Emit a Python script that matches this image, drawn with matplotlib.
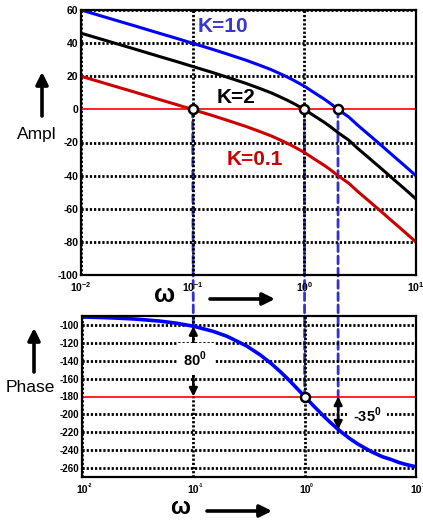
import matplotlib
matplotlib.use('Agg')
import matplotlib.pyplot as plt
from matplotlib.patches import ConnectionPatch

plt.rcParams['font.family'] = ['Liberation Sans', 'DejaVu Sans']
plt.rcParams['mathtext.fontset'] = 'custom'
plt.rcParams['mathtext.rm'] = 'Liberation Sans'
plt.rcParams['mathtext.bf'] = 'Liberation Sans:bold'

# values
omega = [0.01, 0.015, 0.02, 0.03, 0.05, 0.07, 0.1, 0.15, 0.2, 0.3, 0.4, 0.5, 0.6, 0.7, 0.8,
         1, 1.2, 1.5, 1.7, 2, 2.5, 3, 4, 5, 6, 7, 8, 10]
ampl_k10 = [60, 56.5, 54, 50.5, 46, 43.1, 39.9, 36.3, 33.6, 29.7, 26.6, 24.1, 21.7, 19.6, 17.6,
            14, 10.5, 6.3, 3.7, 0, -4.6, -9.5, -16.7, -22.3, -27.0, -30.9, -34.3, -40.1]
ampl_k2 = [46, 42.5, 40, 36.5, 32, 29.1, 25.9, 22.3, 19.6, 15.7, 12.6, 10.1, 7.7, 5.6, 3.6,
           0, -3.5, -7.7, -10.3, -14, -18.6, -23.5, -30.7, -36.3, -41.0, -44.9, -48.3, -54.1]
ampl_k01 = [20, 16.5, 14, 10.5, 6, 3.1, -0.1, -3.7, -6.4, -10.3, -13.4, -15.9, -18.3, -20.4,
            -22.4, -26, -29.5, -33.7, -36.3, -40, -44.6, -49.5, -56.7, -62.3, -67.0, -70.9,
            -74.3, -80.1]
phase = [-91.1, -91.7, -92.3, -93.4, -95.7, -98.0, -101.4, -107.1, -112.6, -123.4, -133.6,
         -143.1, -151.9, -159.9, -167.3, -180, -190.4, -202.6, -209.0, -216.9, -226.4,
         -233.1, -241.9, -247.4, -250.5, -253.7, -255.8, -258.6]
crossover = [0.1, 1, 2]
x_ticks = [0.01, 0.1, 1, 10]
x_exps = ['-2', '-1', '0', '1']
ampl_ticks = list(range(-100, 61, 20))
phase_ticks = list(range(-260, -99, 20))

W, H = 423, 520
fig = plt.figure(figsize=(W / 100, H / 100), dpi=100)
ax1 = fig.add_axes([81 / W, 1 - 275 / H, 335 / W, 265 / H])
ax2 = fig.add_axes([82 / W, 1 - 477 / H, 334 / W, 161 / H])

dotted = (0, (0.8, 0.7))
for ax in (ax1, ax2):
    ax.set_xscale('log')
    ax.set_xlim(0.01, 10)
    ax.set_facecolor('none')
    ax.set_zorder(3)
    ax.set_xticks(x_ticks)
    ax.minorticks_off()
    ax.grid(True, color='k', linestyle=dotted, linewidth=2)
    ax.tick_params(which='both', length=0)
    for s in ax.spines.values():
        s.set_linewidth(1.6)

# amplitude
ax1.set_ylim(-100, 60)
ax1.set_yticks(ampl_ticks)
ax1.set_yticklabels([str(t) for t in ampl_ticks], fontsize=7.5, fontweight='bold')
ax1.tick_params(axis='y', pad=2)
ax1.set_xticklabels([r'$\mathbf{10^{%s}}$' % e for e in x_exps], fontsize=7.5)
ax1.tick_params(axis='x', pad=4)
ax1.get_ygridlines()[ampl_ticks.index(0)].set_visible(False)
ax1.axhline(0, color='#ff0000', lw=1.2, zorder=2.5)
ax1.plot(omega, ampl_k10, color='#0000ff', lw=2.2)
ax1.plot(omega, ampl_k2, color='black', lw=2.2)
ax1.plot(omega, ampl_k01, color='#cc0000', lw=2.2)
ax1.plot(crossover, [0] * len(crossover), 'o', ms=6.5, mfc='white', mec='black', mew=1.8, zorder=5)
ax1.text(0.11, 50, 'K=10', color='#3838cc', fontsize=15, fontweight='bold', va='center')
ax1.text(0.165, 7, 'K=2', color='black', fontsize=15, fontweight='bold', va='center')
ax1.text(0.2, -30, 'K=0.1', color='#cc0000', fontsize=15, fontweight='bold', va='center')

# phase
ax2.set_ylim(-270, -90)
ax2.set_yticks(phase_ticks)
ax2.set_yticklabels([str(t) for t in phase_ticks], fontsize=7, fontweight='bold')
ax2.tick_params(axis='y', pad=2)
ax2.set_xticklabels(['10'] * len(x_ticks), fontsize=7.5, fontweight='bold')
ax2.tick_params(axis='x', pad=6)
for w, e in zip(x_ticks, x_exps):
    ax2.annotate(e, xy=(w, 0), xycoords=('data', 'axes fraction'), xytext=(4, -6),
                 textcoords='offset points', fontsize=3.5, fontweight='bold', ha='left', va='center')
ax2.get_ygridlines()[phase_ticks.index(-180)].set_visible(False)
ax2.axhline(-180, color='#ff0000', lw=1.2, zorder=2.5)
ax2.plot(omega, phase, color='#0000ff', lw=2.6)
ax2.plot([1], [-180], 'o', ms=6.5, mfc='white', mec='black', mew=1.8, zorder=5)

# blue dashed verticals through both plots
for w in crossover:
    ph = phase[omega.index(w)]
    con = ConnectionPatch(xyA=(w, 0), coordsA=ax1.transData, xyB=(w, ph), coordsB=ax2.transData,
                          color='#3333cc', lw=2, linestyle=(0, (2.8, 1.6)), zorder=1)
    fig.add_artist(con)

# margins
arrow = dict(arrowstyle='<|-|>', color='black', lw=1.8, mutation_scale=12, shrinkA=0, shrinkB=0)
ax2.annotate('', xy=(0.1, -180), xytext=(0.1, phase[omega.index(0.1)]), arrowprops=arrow, zorder=4)
ax2.annotate('', xy=(2, -180), xytext=(2, phase[omega.index(2)]), arrowprops=arrow, zorder=4)
ax2.text(0.104, -138, r'80$^{\mathbf{0}}$', fontsize=10.5, fontweight='bold', ha='center',
         va='center', bbox=dict(boxstyle='square,pad=0.45', fc='white', ec='none'), zorder=6)
ax2.text(3.64, -201, r'-35$^{\mathbf{0}}$', fontsize=10.5, fontweight='bold', ha='center',
         va='center', bbox=dict(boxstyle='square,pad=0.4', fc='white', ec='none'), zorder=6)

# axis labels and arrows
fig.text(165 / W, 1 - 295 / H, 'ω', fontsize=18, fontweight='bold', ha='center', va='center')
fig.text(180 / W, 1 - 507 / H, 'ω', fontsize=17, fontweight='bold', ha='center', va='center')
fig.text(17 / W, 1 - 139 / H, 'Ampl', fontsize=12.5, ha='left', va='baseline')
fig.text(6 / W, 1 - 392 / H, 'Phase', fontsize=12.5, ha='left', va='baseline')

big = dict(arrowstyle='-|>', color='black', lw=2.6, mutation_scale=18, shrinkA=0, shrinkB=0)
for start, end in [((210, H - 299), (275, H - 299)), ((207, H - 511), (272, H - 511)),
                   ((42, H - 116), (42, H - 72)), ((34, H - 372), (34, H - 328))]:
    fig.add_artist(matplotlib.text.Annotation('', xy=end, xytext=start, xycoords='figure pixels',
                                              textcoords='figure pixels', arrowprops=big))

fig.savefig('out.png', dpi=100)
